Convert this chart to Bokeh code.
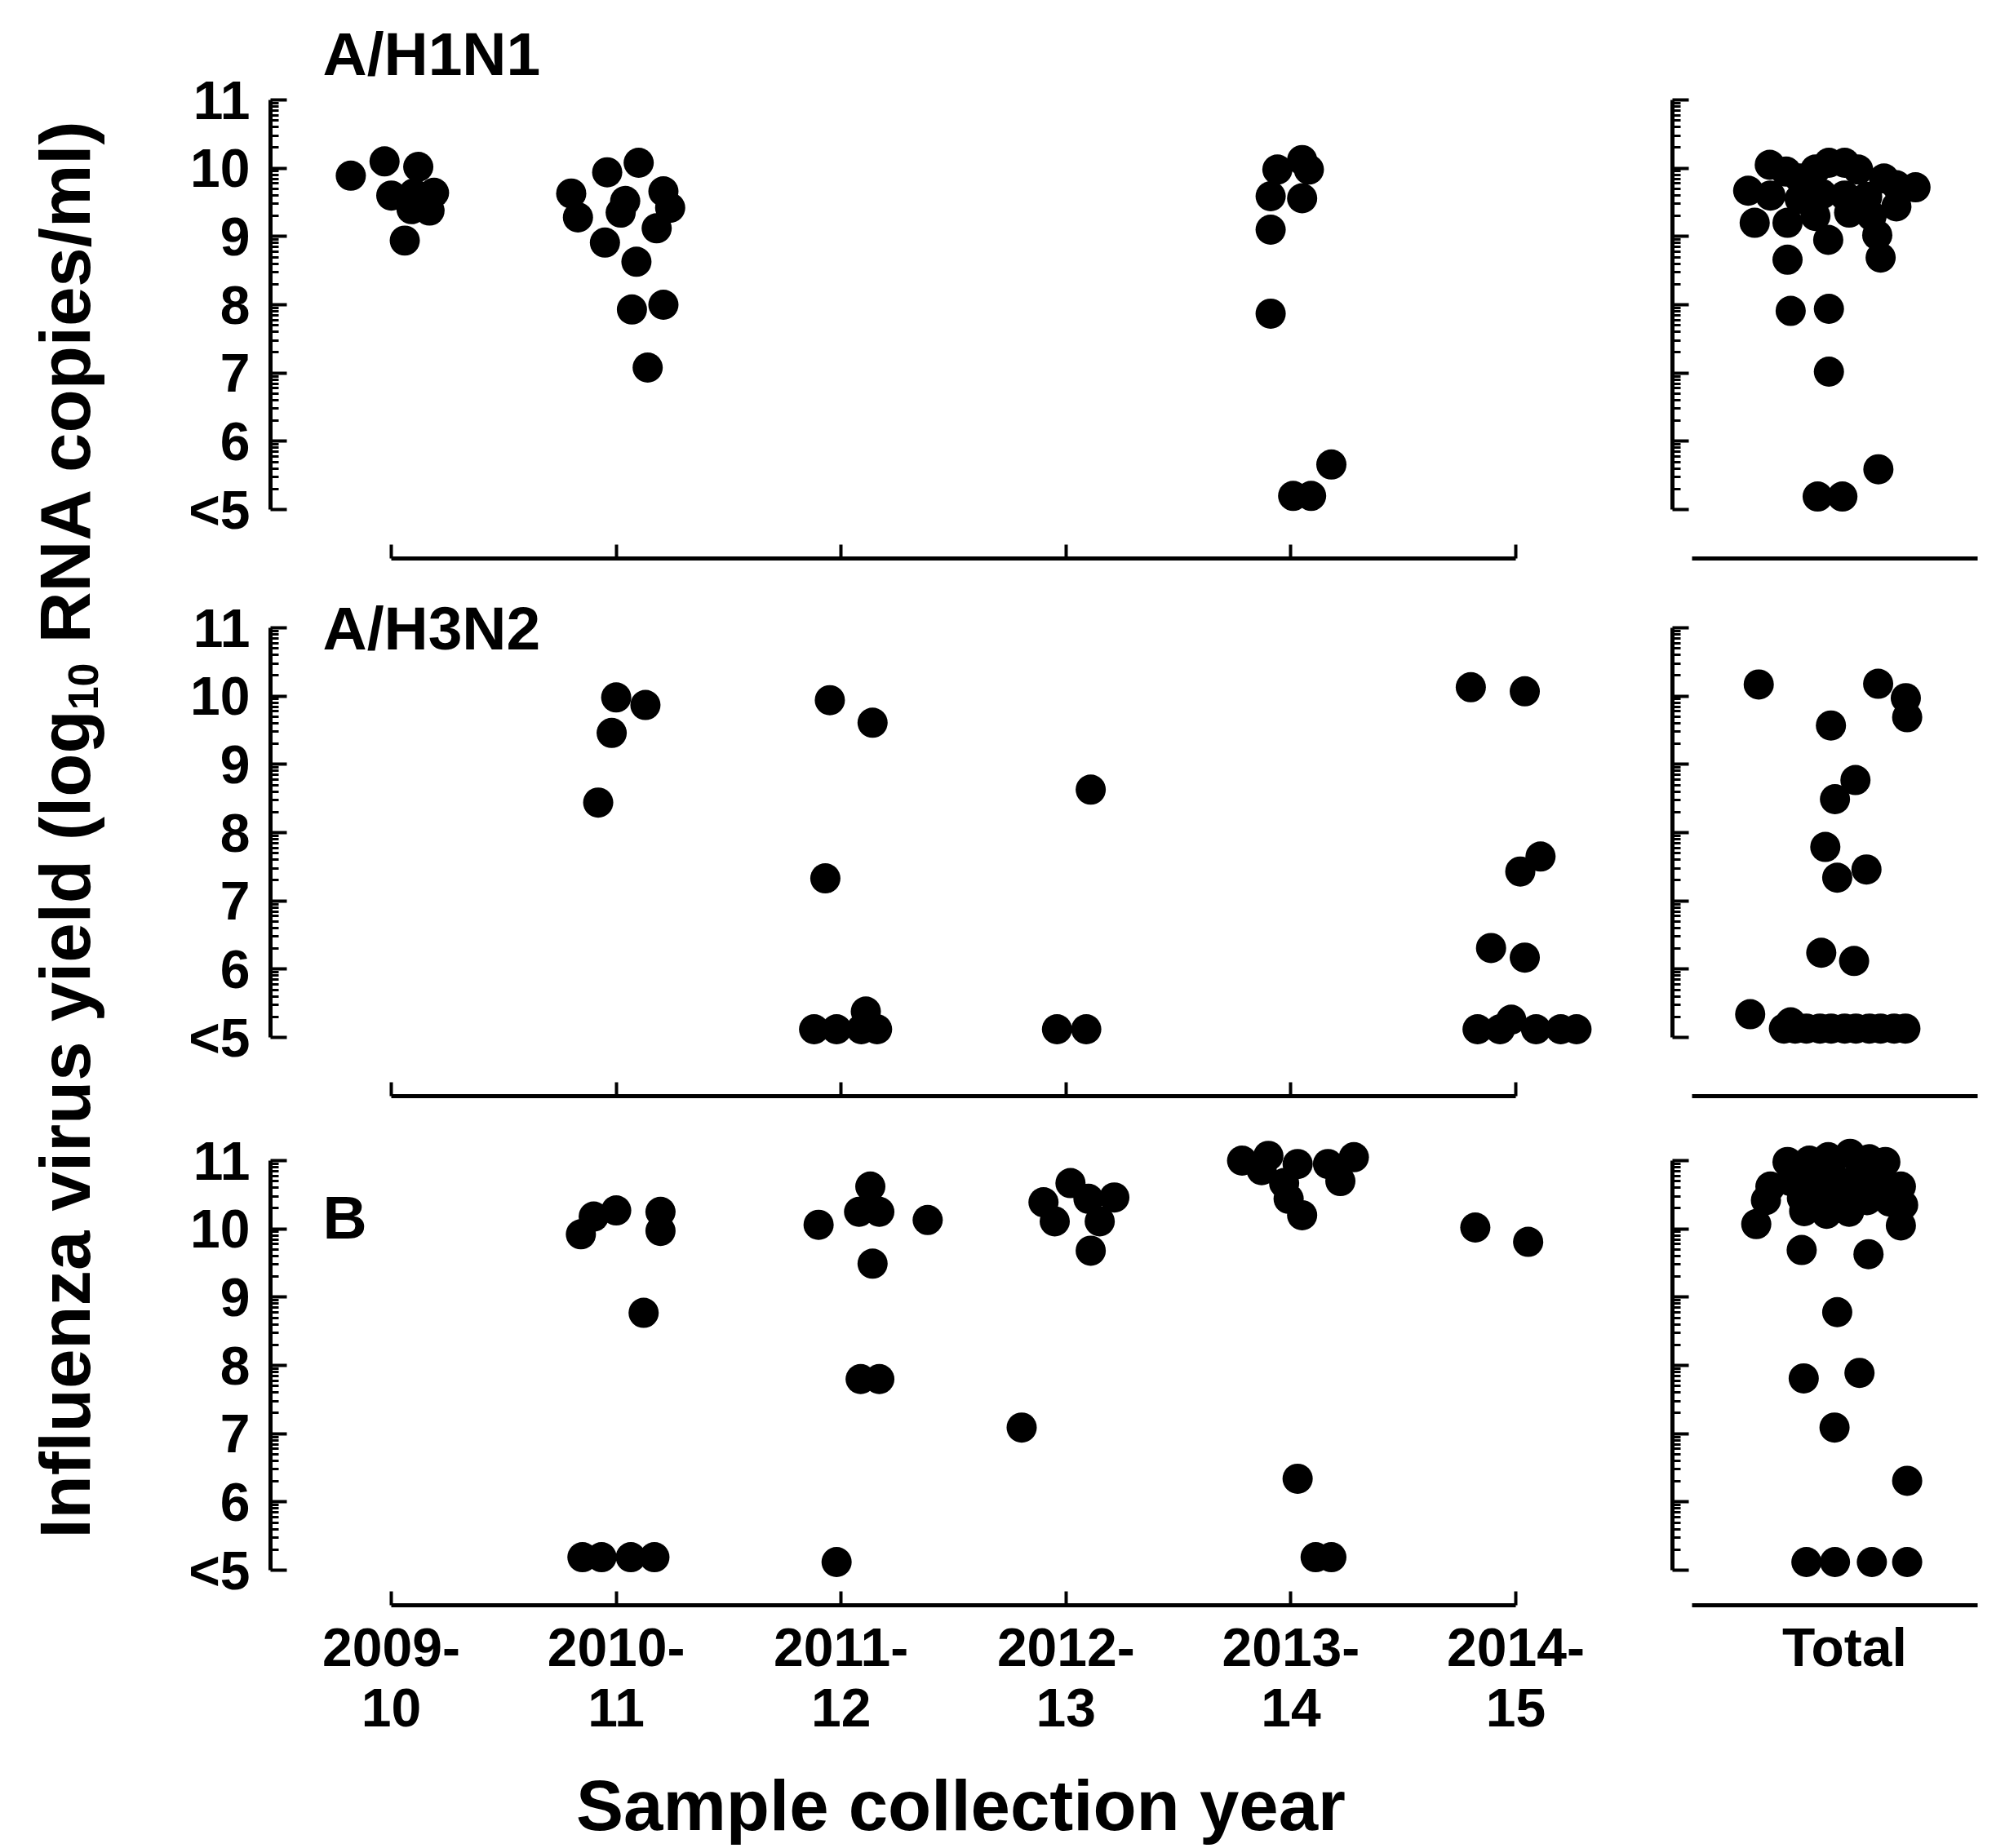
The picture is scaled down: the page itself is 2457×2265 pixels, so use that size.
import math
from bokeh.plotting import figure
from bokeh.models import Range1d, FixedTicker, ColumnDataSource, Label
from bokeh.layouts import row, column
from bokeh.embed import file_html
from bokeh.resources import INLINE

# ---------------- data ----------------
seasons = ["2009-10", "2010-11", "2011-12", "2012-13", "2013-14", "2014-15"]
season_tick_labels = ["2009-\n10", "2010-\n11", "2011-\n12", "2012-\n13", "2013-\n14", "2014-\n15"]
total_label = "Total"
y_ticks = [5, 6, 7, 8, 9, 10, 11]
y_tick_labels = ["<5", "6", "7", "8", "9", "10", "11"]
panel_names = ["A/H1N1", "A/H3N2", "B"]

# A/H1N1 (season index, horizontal jitter in season widths, log10 copies/ml)
h1n1_season = [0] * 9 + [1] * 14 + [4] * 10
h1n1_offset = [-0.18, -0.03, 0.12, 0.00, 0.10, 0.19, 0.17, 0.09, 0.06,
               -0.20, -0.17, -0.04, 0.10, 0.04, 0.02, 0.21, 0.24, 0.18, -0.05, 0.09, 0.07, 0.21, 0.14,
               -0.06, 0.05, 0.08, -0.09, 0.05, -0.09, -0.09, 0.18, 0.01, 0.09]
h1n1_value = [9.89, 10.10, 10.02, 9.60, 9.63, 9.64, 9.38, 9.40, 8.94,
              9.63, 9.28, 9.94, 10.08, 9.52, 9.35, 9.66, 9.42, 9.12, 8.91, 8.63, 7.93, 8.00, 7.08,
              9.98, 10.12, 9.98, 9.59, 9.56, 9.10, 7.87, 5.66, 5.20, 5.20]
h1n1_total_offset = [-0.333, -0.26, -0.20, -0.13, -0.07, 0.00, 0.06, 0.175, 0.315, 0.23,
                     -0.429, -0.33, -0.20, -0.10, 0.00, 0.10, 0.23,
                     -0.40, -0.254, -0.13, 0.02, 0.12,
                     -0.073, 0.145, -0.254, 0.16,
                     -0.24, -0.07, -0.07, 0.15, -0.12, -0.01]
h1n1_total_value = [10.05, 9.95, 9.85, 9.98, 10.08, 10.08, 9.98, 9.85, 9.72, 9.75,
                    9.67, 9.60, 9.55, 9.62, 9.60, 9.58, 9.44,
                    9.20, 9.20, 9.30, 9.35, 9.30,
                    8.95, 9.02, 8.66, 8.69,
                    7.91, 7.94, 7.02, 5.59, 5.19, 5.19]

# A/H3N2
h3n2_season = [1] * 4 + [2] * 8 + [3] * 3 + [5] * 12
h3n2_offset = [-0.08, -0.02, 0.00, 0.13,
               -0.05, 0.14, -0.07, -0.12, -0.02, 0.11, 0.09, 0.16,
               0.11, -0.04, 0.09,
               -0.20, 0.04, 0.11, 0.02, -0.11, 0.04, -0.17, -0.07, -0.02, 0.09, 0.20, 0.27]
h3n2_value = [8.44, 9.46, 9.98, 9.87,
              9.94, 9.61, 7.33, 5.12, 5.12, 5.38, 5.12, 5.12,
              8.63, 5.12, 5.12,
              10.13, 10.07, 7.65, 7.43, 6.31, 6.17, 5.12, 5.12, 5.26, 5.12, 5.12, 5.12]
h3n2_total_offset = [-0.382, 0.149, 0.272, 0.278, -0.061, 0.048, -0.043, -0.086, 0.097, -0.033,
                     -0.104, 0.042, -0.420,
                     -0.27, -0.22, -0.17, -0.11, -0.06, 0.00, 0.05, 0.11, 0.16, 0.22, 0.27, -0.24]
h3n2_total_value = [10.17, 10.18, 9.97, 9.69, 9.57, 8.77, 8.49, 7.79, 7.46, 7.34,
                    6.24, 6.12, 5.34,
                    5.13, 5.13, 5.13, 5.13, 5.13, 5.13, 5.13, 5.13, 5.13, 5.13, 5.13, 5.22]

# B
b_season = [1] * 10 + [2] * 9 + [3] * 8 + [4] * 13 + [5] * 2
b_offset = [-0.157, -0.10, 0.00, 0.197, 0.197, 0.122, -0.15, -0.065, 0.065, 0.17,
            -0.10, 0.13, 0.08, 0.17, 0.385, 0.14, 0.087, 0.17, -0.02,
            -0.10, 0.02, -0.05, 0.15, 0.215, 0.10, 0.11, -0.197,
            -0.217, -0.10, 0.03, 0.165, 0.28, 0.22, -0.03, -0.01, 0.05, -0.13, 0.03, 0.11, 0.18,
            -0.18, 0.055]
b_value = [9.92, 10.18, 10.27, 10.25, 9.97, 8.77, 5.19, 5.19, 5.19, 5.19,
           10.06, 10.62, 10.25, 10.25, 10.13, 9.49, 7.80, 7.80, 5.12,
           10.39, 10.67, 10.11, 10.11, 10.46, 10.44, 9.68, 7.09,
           11.00, 11.07, 10.95, 10.95, 11.05, 10.70, 10.67, 10.44, 10.20, 10.86, 6.34, 5.19, 5.19,
           10.02, 9.81]
b_total_offset = [-0.254, -0.157, -0.073, 0.024, 0.109, 0.181,
                  -0.33, -0.24, -0.145, -0.048, 0.048, 0.145, 0.25,
                  -0.35, -0.19, -0.10, 0.00, 0.10, 0.20, 0.26,
                  -0.393, -0.18, -0.08, 0.02, 0.25,
                  -0.191, 0.106, -0.033, -0.182, 0.066, -0.045, 0.278,
                  -0.17, -0.043, 0.121, 0.278]
b_total_value = [10.98, 11.00, 11.05, 11.10, 11.02, 10.98,
                 10.62, 10.70, 10.72, 10.75, 10.72, 10.70, 10.62,
                 10.42, 10.45, 10.40, 10.45, 10.42, 10.40, 10.35,
                 10.07, 10.26, 10.22, 10.25, 10.05,
                 9.69, 9.63, 8.78, 7.81, 7.89, 7.09, 6.31,
                 5.12, 5.12, 5.12, 5.12]

# ---------------- layout constants (page pixels) ----------------
FONT = "Liberation Sans"
PX_PER_SEASON = 275.6
PX_PER_UNIT = 83.67
DOT = 37
PAGE_W, PAGE_H = 2456, 2264

LEFT_FIG_X0, LEFT_FRAME_X0, CAT0_X, SPLIT_X = 188, 331, 479, 2023
RIGHT_FRAME_X0, TOTAL_X = 2049, 2260
RIGHT_AXIS_X0, RIGHT_AXIS_X1 = 2073, 2423

# per row: fig_top, frame_top, y(11), xaxis_y, fig_bottom
rows_px = [
    (0, 30, 122, 684, 720),
    (720, 725, 769, 1343, 1365),
    (1365, 1370, 1422, 1967, 2158),
]
label_centers = [65, 769, 1491]
label_x = 395

minor_ticks = [n + math.log10(k) for n in range(5, 11) for k in range(2, 10)]

l_frame_w = SPLIT_X - LEFT_FRAME_X0
r_frame_w = PAGE_W - RIGHT_FRAME_X0
lx0 = -(CAT0_X - LEFT_FRAME_X0) / PX_PER_SEASON
lx1 = lx0 + l_frame_w / PX_PER_SEASON
rx0 = -(TOTAL_X - RIGHT_FRAME_X0) / PX_PER_SEASON
rx1 = rx0 + r_frame_w / PX_PER_SEASON
rb0 = (RIGHT_AXIS_X0 - TOTAL_X) / PX_PER_SEASON
rb1 = (RIGHT_AXIS_X1 - TOTAL_X) / PX_PER_SEASON


def style_common(p):
    p.outline_line_color = None
    p.grid.visible = False
    p.background_fill_color = "white"
    p.border_fill_color = "white"


def hide_labels(ax):
    ax.major_label_text_font_size = "1px"
    ax.major_label_text_color = None
    ax.major_label_standoff = 0


def style_y(ax, labels):
    ax.ticker = FixedTicker(ticks=y_ticks, minor_ticks=minor_ticks)
    ax.bounds = (5, 11)
    ax.axis_line_width = 5
    ax.axis_line_color = "black"
    ax.major_tick_in = 20
    ax.major_tick_out = 0
    ax.major_tick_line_width = 4
    ax.minor_tick_in = 10
    ax.minor_tick_out = 0
    ax.minor_tick_line_width = 3
    if labels:
        ax.major_label_overrides = {t: s for t, s in zip(y_ticks, y_tick_labels)}
        ax.major_label_text_font = FONT
        ax.major_label_text_font_style = "bold"
        ax.major_label_text_font_size = "66px"
        ax.major_label_text_color = "black"
        ax.major_label_standoff = 25
    else:
        hide_labels(ax)


def style_x(ax, ticks, labels, bounds, tick_in):
    ax.ticker = FixedTicker(ticks=ticks)
    ax.bounds = bounds
    ax.axis_line_width = 5
    ax.axis_line_color = "black"
    ax.major_tick_in = tick_in
    ax.major_tick_out = 0
    ax.major_tick_line_width = 4
    ax.minor_tick_in = 0
    ax.minor_tick_out = 0
    if labels is not None:
        ax.major_label_overrides = {t: s for t, s in zip(ticks, labels)}
        ax.major_label_text_font = FONT
        ax.major_label_text_font_style = "bold"
        ax.major_label_text_font_size = "66px"
        ax.major_label_text_line_height = 1.0
        ax.major_label_text_color = "black"
        ax.major_label_standoff = 14
    else:
        hide_labels(ax)


panel_data = [
    (h1n1_season, h1n1_offset, h1n1_value, h1n1_total_offset, h1n1_total_value),
    (h3n2_season, h3n2_offset, h3n2_value, h3n2_total_offset, h3n2_total_value),
    (b_season, b_offset, b_value, b_total_offset, b_total_value),
]

panel_rows = []
for i, (fig_top, frame_top, y11, xaxis_y, fig_bottom) in enumerate(rows_px):
    y_end = 11 + (y11 - frame_top) / PX_PER_UNIT
    y5 = y11 + 6 * PX_PER_UNIT
    y_start = 5 - (xaxis_y - y5) / PX_PER_UNIT
    h = fig_bottom - fig_top
    bt = frame_top - fig_top
    bb = fig_bottom - xaxis_y
    last = (i == len(rows_px) - 1)
    seas, offs, vals, toffs, tvals = panel_data[i]

    pl = figure(width=SPLIT_X - LEFT_FIG_X0, height=h,
                x_range=Range1d(lx0, lx1), y_range=Range1d(y_start, y_end),
                output_backend="svg", toolbar_location=None,
                min_border_left=LEFT_FRAME_X0 - LEFT_FIG_X0, min_border_right=0,
                min_border_top=bt, min_border_bottom=bb)
    style_common(pl)
    style_y(pl.yaxis[0], True)
    style_x(pl.xaxis[0], [0, 1, 2, 3, 4, 5], season_tick_labels if last else None, (0, 5), 17)
    src = ColumnDataSource(dict(x=[s + o for s, o in zip(seas, offs)], y=vals))
    pl.scatter("x", "y", source=src, size=DOT, marker="circle",
               fill_color="black", line_color=None)
    pl.add_layout(Label(x=(label_x - CAT0_X) / PX_PER_SEASON,
                        y=11 + (y11 - label_centers[i]) / PX_PER_UNIT,
                        text=panel_names[i], text_font=FONT, text_font_style="bold",
                        text_font_size="75px", text_align="left",
                        text_baseline="middle", text_color="black"))

    pr = figure(width=PAGE_W - SPLIT_X, height=h,
                x_range=Range1d(rx0, rx1), y_range=Range1d(y_start, y_end),
                output_backend="svg", toolbar_location=None,
                min_border_left=RIGHT_FRAME_X0 - SPLIT_X, min_border_right=0,
                min_border_top=bt, min_border_bottom=bb)
    style_common(pr)
    style_y(pr.yaxis[0], False)
    style_x(pr.xaxis[0], [0], [total_label] if last else None, (rb0, rb1), 0)
    tsrc = ColumnDataSource(dict(x=toffs, y=tvals))
    pr.scatter("x", "y", source=tsrc, size=DOT, marker="circle",
               fill_color="black", line_color=None)
    panel_rows.append(row(pl, pr))

# y-axis title (data coords: x = page x, y = PAGE_H - page y)
yt = figure(width=LEFT_FIG_X0, height=PAGE_H, x_range=Range1d(0, LEFT_FIG_X0),
            y_range=Range1d(0, PAGE_H), x_axis_type=None, y_axis_type=None,
            output_backend="svg", toolbar_location=None,
            min_border_left=0, min_border_right=0, min_border_top=0, min_border_bottom=0)
style_common(yt)
TS = 87
SUB = 52
w1 = 11.67 * TS
w2 = 1.112 * SUB
gap = 0.278 * TS
w3 = 7.39 * TS
center_y = 1015
start_y = center_y + (w1 + w2 + gap + w3) / 2
pieces = [
    ("Influenza virus yield (log", start_y, 79, TS),
    ("10", start_y - w1, 101, SUB),
    ("RNA copies/ml)", start_y - w1 - w2 - gap, 79, TS),
]
for txt, sy, cx, fs in pieces:
    yt.add_layout(Label(x=cx, y=PAGE_H - sy, text=txt, angle=math.pi / 2,
                        text_font=FONT, text_font_style="bold", text_font_size=f"{fs}px",
                        text_align="left", text_baseline="middle", text_color="black"))

# x-axis title
XT_TOP = rows_px[-1][4]
xt_h = PAGE_H - XT_TOP
xt = figure(width=PAGE_W - LEFT_FIG_X0, height=xt_h, x_range=Range1d(LEFT_FIG_X0, PAGE_W),
            y_range=Range1d(0, xt_h), x_axis_type=None, y_axis_type=None,
            output_backend="svg", toolbar_location=None,
            min_border_left=0, min_border_right=0, min_border_top=0, min_border_bottom=0)
style_common(xt)
xt.add_layout(Label(x=1177, y=PAGE_H - 2212, text="Sample collection year",
                    text_font=FONT, text_font_style="bold", text_font_size=f"{TS}px",
                    text_align="center", text_baseline="middle", text_color="black"))

layout = row(yt, column(*panel_rows, xt))
open("out.html", "w").write(file_html(layout, INLINE))
